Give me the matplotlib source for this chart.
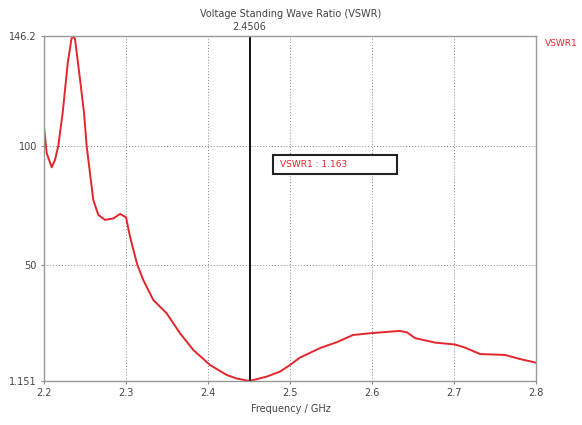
import matplotlib
matplotlib.use("Agg")
import matplotlib.pyplot as plt
from matplotlib.patches import Rectangle

# VSWR sweep
freq_ghz = [2.2, 2.2033, 2.2094, 2.2134, 2.2174, 2.2228, 2.2290, 2.2335, 2.2357,
            2.2378, 2.2439, 2.2488, 2.2520, 2.2561, 2.2601, 2.2662, 2.2744, 2.2846,
            2.2927, 2.3, 2.3049, 2.3138, 2.3211, 2.3333, 2.3496, 2.3659, 2.3821,
            2.4024, 2.4228, 2.4350, 2.4506, 2.4716, 2.4878, 2.5, 2.5122, 2.5366,
            2.5573, 2.5768, 2.6, 2.6183, 2.6341, 2.6427, 2.6524, 2.6768, 2.7012,
            2.7134, 2.7317, 2.7549, 2.7622, 2.7805, 2.8]
vswr = [108.1, 96.9, 91.0, 94.1, 100.0, 114.0, 135.0, 145.0, 146.2,
        145.0, 128.0, 114.0, 100.0, 88.5, 77.3, 71.0, 68.9, 69.5,
        71.4, 70.0, 61.8, 50.0, 43.6, 35.2, 29.6, 21.2, 14.2,
        7.9, 3.7, 2.2, 1.163, 3.0, 5.1, 7.9, 11.0, 15.0,
        17.5, 20.5, 21.3, 21.8, 22.2, 21.6, 19.2, 17.3, 16.5,
        15.2, 12.5, 12.2, 12.1, 10.4, 8.85]

marker_freq = 2.4506
marker_value = 1.163
y_ticks = [1.151, 50, 100, 146.2]
y_labels = ["1.151", "50", "100", "146.2"]
x_ticks = [2.2, 2.3, 2.4, 2.5, 2.6, 2.7, 2.8]

red = "#e3262c"
txt = "#444444"

fig = plt.figure(figsize=(5.82, 4.25), dpi=100)
ax = fig.add_axes([0.0756, 0.1035, 0.8454, 0.8118])

ax.plot(freq_ghz, vswr, color=red, lw=1.4, solid_joinstyle="round")
ax.axvline(marker_freq, color="black", lw=1.3)

ax.set_xlim(2.2, 2.8)
ax.set_ylim(1.151, 146.2)
ax.set_xticks(x_ticks)
ax.set_xticklabels([f"{t:.1f}" for t in x_ticks])
ax.set_yticks(y_ticks)
ax.set_yticklabels(y_labels)
ax.tick_params(length=2, colors="#888888", labelcolor=txt, labelsize=7, pad=3)

# dotted grid only on inner ticks
for t in x_ticks[1:-1]:
    ax.axvline(t, color="#888888", lw=0.7, ls=(0, (1, 2)), zorder=0)
for t in [50, 100]:
    ax.axhline(t, color="#888888", lw=0.7, ls=(0, (1, 2)), zorder=0)

for s in ax.spines.values():
    s.set_color("#999999")
    s.set_linewidth(1.0)

fig.text(0.5, 0.967, "Voltage Standing Wave Ratio (VSWR)", ha="center",
         va="center", fontsize=7, color=txt)
fig.text(0.5, 0.038, "Frequency / GHz", ha="center", va="center",
         fontsize=7, color=txt)
ax.text(marker_freq, 146.2 + 1.5, f"{marker_freq:.4f}", ha="center",
        va="bottom", fontsize=7, color=txt)
fig.text(0.937, 0.897, "VSWR1", ha="left", va="center", fontsize=6.5, color=red)

# marker readout box
ax.add_patch(Rectangle((0.4654, 0.60), 0.2521, 0.055, transform=ax.transAxes,
                       facecolor="white", edgecolor="#222222", lw=1.5, zorder=5))
ax.text(0.4654 + 0.014, 0.6275, f"VSWR1 : {marker_value}", transform=ax.transAxes,
        ha="left", va="center", fontsize=6.5, color=red, zorder=6)

fig.savefig("out.png", dpi=100)
